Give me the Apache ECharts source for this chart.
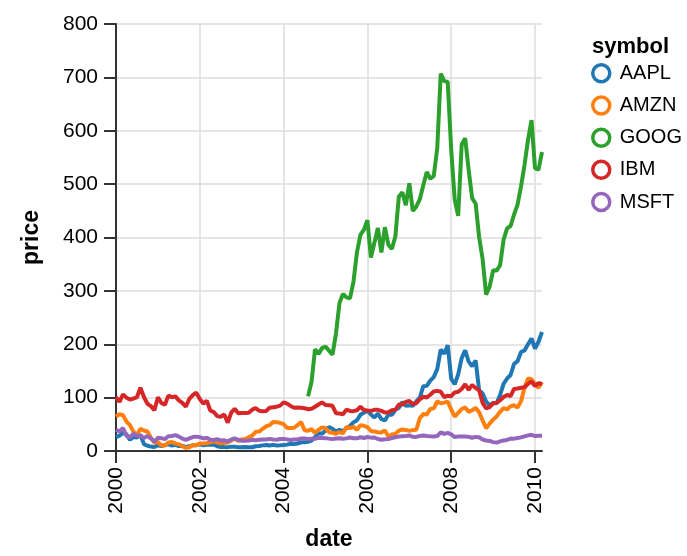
<!DOCTYPE html>
<html>
<head>
<meta charset="utf-8">
<script src="https://cdn.jsdelivr.net/npm/echarts@6/dist/echarts.min.js"></script>
<style>
html,body{margin:0;padding:0;background:#fff;}
#chart{width:687px;height:556px;}
</style>
</head>
<body>
<div id="chart"></div>
<script>
const dates = [
"2000-01","2000-02","2000-03","2000-04","2000-05","2000-06","2000-07","2000-08","2000-09","2000-10","2000-11","2000-12",
"2001-01","2001-02","2001-03","2001-04","2001-05","2001-06","2001-07","2001-08","2001-09","2001-10","2001-11","2001-12",
"2002-01","2002-02","2002-03","2002-04","2002-05","2002-06","2002-07","2002-08","2002-09","2002-10","2002-11","2002-12",
"2003-01","2003-02","2003-03","2003-04","2003-05","2003-06","2003-07","2003-08","2003-09","2003-10","2003-11","2003-12",
"2004-01","2004-02","2004-03","2004-04","2004-05","2004-06","2004-07","2004-08","2004-09","2004-10","2004-11","2004-12",
"2005-01","2005-02","2005-03","2005-04","2005-05","2005-06","2005-07","2005-08","2005-09","2005-10","2005-11","2005-12",
"2006-01","2006-02","2006-03","2006-04","2006-05","2006-06","2006-07","2006-08","2006-09","2006-10","2006-11","2006-12",
"2007-01","2007-02","2007-03","2007-04","2007-05","2007-06","2007-07","2007-08","2007-09","2007-10","2007-11","2007-12",
"2008-01","2008-02","2008-03","2008-04","2008-05","2008-06","2008-07","2008-08","2008-09","2008-10","2008-11","2008-12",
"2009-01","2009-02","2009-03","2009-04","2009-05","2009-06","2009-07","2009-08","2009-09","2009-10","2009-11","2009-12",
"2010-01","2010-02","2010-03"
];

const symbols = ["AAPL","AMZN","GOOG","IBM","MSFT"];
const colors = ["#1f77b4","#ff7f0e","#2ca02c","#d62728","#9467bd"];

const AAPL = [25.94,28.66,33.95,31.01,21,26.19,25.41,30.47,12.88,9.78,8.25,7.44,
10.81,9.12,11.03,12.74,9.98,11.62,9.4,9.27,7.76,8.78,10.65,10.95,
12.36,10.85,11.84,12.14,11.65,8.86,7.63,7.38,7.25,8.03,7.75,7.16,
7.18,7.51,7.07,7.11,8.98,9.53,10.54,11.31,10.36,11.44,10.45,10.69,
11.28,11.96,13.52,12.89,14.03,16.27,16.17,17.25,19.38,26.2,33.53,32.2,
38.45,44.86,41.67,36.06,39.76,36.81,42.65,46.89,53.61,57.59,67.82,71.89,
75.51,68.49,62.72,70.39,59.77,57.27,67.96,67.85,76.98,81.08,91.66,84.84,
85.73,84.61,92.91,99.8,121.19,122.04,131.76,138.48,153.47,189.95,182.22,198.08,
135.36,125.02,143.5,173.95,188.75,167.44,158.95,169.53,113.66,107.59,92.67,85.35,
90.13,89.31,105.12,125.83,135.81,142.43,163.39,168.21,185.35,188.5,199.91,210.73,
192.06,204.62,223.02];

const AMZN = [64.56,68.87,67,55.19,48.31,36.31,30.12,41.5,38.44,36.62,24.69,15.56,
17.31,10.19,10.23,15.78,16.69,14.15,12.49,8.94,5.97,6.98,11.32,10.82,
14.19,14.1,14.3,16.69,18.23,16.25,14.45,14.94,15.93,19.36,23.35,18.89,
21.85,22.01,26.03,28.69,35.89,36.32,41.64,46.32,48.43,54.43,53.97,52.62,
50.4,43.01,43.28,43.6,48.5,54.4,38.92,38.14,40.86,34.13,39.68,44.29,
43.22,35.18,34.27,32.36,35.51,33.09,45.15,42.7,45.3,39.86,48.46,47.15,
44.82,37.44,36.53,35.21,34.61,38.68,26.89,30.83,32.12,38.09,40.34,39.46,
37.67,39.14,39.79,61.33,69.14,68.41,78.54,79.91,93.15,89.15,90.56,92.64,
77.7,64.47,71.3,78.63,81.62,73.33,76.34,80.81,72.76,57.24,42.7,51.28,
58.82,64.79,73.44,80.52,77.99,83.66,85.76,81.19,93.36,118.81,135.91,134.52,
125.41,118.4,128.82];

const GOOG = [102.37,129.6,190.64,181.98,192.79,
195.62,187.99,180.51,220,277.27,294.15,287.76,286,316.46,372.14,404.91,414.86,
432.66,362.62,390,417.94,371.82,419.33,386.6,378.53,401.9,476.39,484.81,460.48,
501.5,449.45,458.16,471.38,497.91,522.7,510,515.25,567.27,707,693,691.48,
564.3,471.18,440.47,574.29,585.8,526.42,473.75,463.29,400.52,359.36,292.96,307.65,
338.53,337.99,348.06,395.97,417.23,421.59,443.05,461.67,495.85,536.12,583,619.98,
529.94,526.8,560.19];

const IBM = [100.52,92.11,106.11,99.95,96.31,98.33,100.74,118.62,101.19,88.5,84.12,76.47,
100.76,89.98,86.63,103.7,100.82,102.35,94.87,90.25,82.82,97.58,104.5,109.36,
97.54,88.82,94.15,75.82,72.97,65.31,63.86,68.52,53.01,71.76,79.16,70.58,
71.22,71.13,71.57,77.47,80.48,75.42,74.28,75.12,80.91,81.96,83.08,85.05,
91.06,88.7,84.41,81.04,81.59,81.19,80.19,78.17,79.13,82.84,87.15,91.16,
86.39,85.78,84.66,70.77,70.18,68.93,77.53,75.07,74.7,76.25,82.98,76.73,
75.89,75.09,77.17,77.05,75.04,72.15,72.7,76.35,77.26,87.06,86.95,91.9,
93.79,88.18,89.44,96.98,101.54,100.25,105.4,111.54,112.6,111,100.9,103.7,
102.75,109.64,110.87,116.23,125.14,114.6,123.74,118.16,113.53,90.24,79.65,82.15,
89.46,90.32,95.09,101.29,104.85,103.01,116.34,117,118.55,119.54,125.79,130.32,
121.85,127.16,125.55];

const MSFT = [39.81,36.35,43.22,28.37,25.45,32.54,28.4,28.4,24.53,28.02,23.34,17.65,
24.84,24,22.25,27.56,28.14,29.7,26.93,23.21,20.82,23.65,26.12,26.95,
25.92,23.73,24.53,21.26,20.71,22.25,19.52,19.97,17.79,21.75,23.46,21.03,
19.31,19.34,19.76,20.87,20.09,20.93,21.56,21.65,22.69,21.45,21.1,22.46,
22.69,21.77,20.46,21.45,21.53,23.44,23.38,22.47,22.76,23.02,24.6,24.52,
24.11,23.15,22.24,23.28,23.82,22.93,23.64,25.35,23.83,23.8,25.71,24.29,
26.14,25.04,25.36,22.5,21.19,21.8,22.51,24.13,25.68,26.96,27.66,28.13,
29.07,26.63,26.35,28.3,29.11,27.95,27.5,27.34,28.04,35.03,32.09,34,
31.13,26.07,27.21,27.34,27.25,26.47,24.75,26.36,25.78,21.57,19.66,18.91,
16.63,15.81,17.99,19.84,20.59,23.42,23.18,24.43,25.49,27.48,29.27,30.34,
28.05,28.67,28.8];

const yTicks = [0,100,200,300,400,500,600,700,800];
const xTickYears = [2000,2002,2004,2006,2008,2010];

const seriesValues = {AAPL, AMZN, GOOG, IBM, MSFT};

// convert "YYYY-MM" to fractional year for the value axis
function toYear(d){ const p = d.split("-"); return (+p[0]) + (+p[1]-1)/12; }

function pairs(vals){
  const off = dates.length - vals.length;
  return vals.map((v,i)=>[toYear(dates[i+off]), v]);
}

const FONT = "Liberation Sans, Arial, Helvetica, sans-serif";
const chart = echarts.init(document.getElementById("chart"), null, {renderer:"canvas"});

const xMax = toYear(dates[dates.length-1]);

chart.setOption({
  animation:false,
  backgroundColor:"#fff",
  title:{
    text:"symbol", left:587, top:31,
    textStyle:{fontFamily:FONT, fontSize:22, fontWeight:"bold", color:"#000"}
  },
  legend:{
    orient:"vertical", left:586, top:58,
    itemWidth:17, itemHeight:17, itemGap:11.7,
    icon:"circle",
    textStyle:{fontFamily:FONT, fontSize:20, color:"#000", padding:[0,0,0,5]},
    data: symbols.map((s,i)=>({name:s, icon:"circle",
      itemStyle:{color:"#fff", borderColor:colors[i], borderWidth:3.5}}))
  },
  grid:{left:116, right:145, top:24, bottom:105, containLabel:false},
  xAxis:{
    type:"value", min:xTickYears[0], max:xMax, interval:2,
    name:"date", nameLocation:"middle", nameGap:77,
    nameTextStyle:{fontFamily:FONT, fontSize:23, fontWeight:"bold", color:"#000"},
    axisLine:{show:true, onZero:false, lineStyle:{color:"#333", width:2}},
    axisTick:{show:true, length:12, lineStyle:{color:"#333", width:2}},
    axisLabel:{rotate:90, margin:16, fontFamily:FONT, fontSize:21, color:"#000",
      showMaxLabel:false,
      formatter:v => Number.isInteger(v) && xTickYears.includes(v) ? String(v) : ""},
    splitLine:{show:true, showMaxLine:false, lineStyle:{color:"#ddd", width:1.5}}
  },
  yAxis:{
    type:"value", min:yTicks[0], max:yTicks[yTicks.length-1], interval:100,
    name:"price", nameLocation:"middle", nameGap:73,
    nameTextStyle:{fontFamily:FONT, fontSize:23, fontWeight:"bold", color:"#000"},
    axisLine:{show:true, lineStyle:{color:"#333", width:2}},
    axisTick:{show:true, length:12, lineStyle:{color:"#333", width:2}},
    axisLabel:{margin:18, fontFamily:FONT, fontSize:21, color:"#000"},
    splitLine:{show:true, lineStyle:{color:"#ddd", width:1.5}}
  },
  series: symbols.map((s,i)=>({
    name:s, type:"line", data:pairs(seriesValues[s]),
    showSymbol:false, symbol:"none",
    lineStyle:{color:colors[i], width:4},
    itemStyle:{color:colors[i]},
    emphasis:{disabled:true}
  }))
});
</script>
</body>
</html>
